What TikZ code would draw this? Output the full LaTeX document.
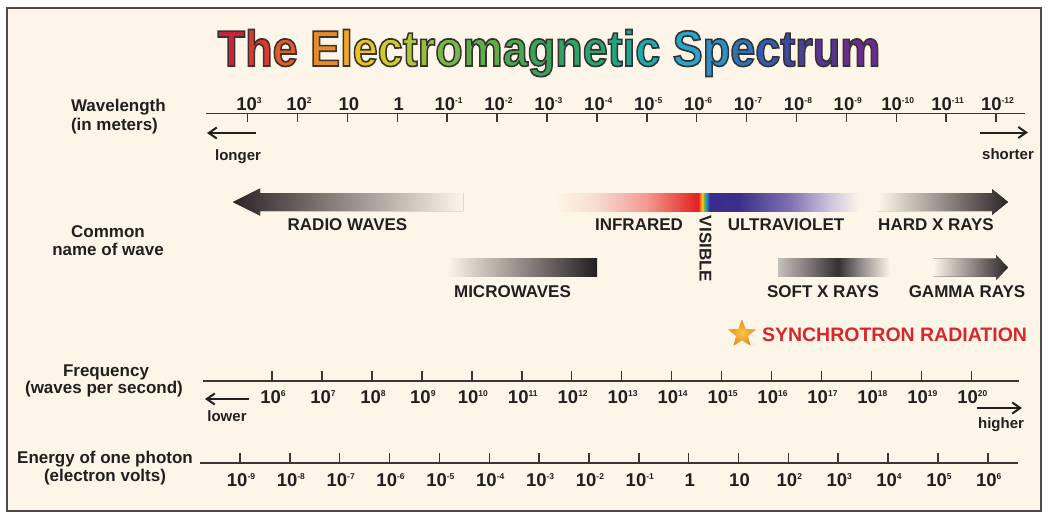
\documentclass[tikz,border=0pt]{standalone}
\usepackage{fontspec}
\setmainfont{Liberation Sans}
\usetikzlibrary{arrows.meta,shapes.geometric}
\definecolor{cream}{HTML}{FDF6E8}
\definecolor{ink}{HTML}{231F20}
\definecolor{axisc}{HTML}{3A3636}
\definecolor{framec}{HTML}{4D4A47}
\definecolor{darkband}{HTML}{2B2526}
\definecolor{synred}{HTML}{D8262E}
% spectrum colours
\definecolor{sp1}{HTML}{F7DCD3}
\definecolor{sp2}{HTML}{F19A91}
\definecolor{sp3}{HTML}{E63A36}
\definecolor{sp4}{HTML}{E31E24}
\definecolor{sp5}{HTML}{F47B20}
\definecolor{sp6}{HTML}{F4D31F}
\definecolor{sp7}{HTML}{4DB748}
\definecolor{sp8}{HTML}{2A8FD0}
\definecolor{sp9}{HTML}{3A2C8E}
\definecolor{sp10}{HTML}{3B2F8A}
\definecolor{sp11}{HTML}{7D6FB0}
\definecolor{sp12}{HTML}{CBC4DD}
\definecolor{sx1}{HTML}{C4BFB8}
\definecolor{sx2}{HTML}{7A7573}
\definecolor{sx3}{HTML}{343031}
\definecolor{sx4}{HTML}{8F8A87}
\definecolor{starin}{HTML}{F9C846}
\definecolor{starout}{HTML}{E98A1D}
\pgfdeclarehorizontalshading{emspec}{100bp}{color(0bp)=(cream); color(25bp)=(cream);
  color(31.67bp)=(sp1); color(40bp)=(sp2); color(46.67bp)=(sp3); color(48.5bp)=(sp4);
  color(48.83bp)=(sp5); color(49.17bp)=(sp6); color(49.5bp)=(sp7); color(49.83bp)=(sp8);
  color(50.33bp)=(sp9); color(55bp)=(sp10); color(63.33bp)=(sp11); color(70bp)=(sp12);
  color(75bp)=(cream); color(100bp)=(cream)}
\pgfdeclarehorizontalshading{softx}{100bp}{color(0bp)=(sx1); color(25bp)=(sx1);
  color(39.3bp)=(sx2); color(51.8bp)=(sx3); color(61.6bp)=(sx4); color(75bp)=(cream); color(100bp)=(cream)}
\newcommand\tl[2]{{\color[HTML]{#1}\special{pdf:literal direct 0.22 0.2 0.2 RG}#2}}
\newcommand\tenp[1]{10\raisebox{7pt}{\fontsize{8.5}{9}\selectfont#1}}
\begin{document}
\begin{tikzpicture}[x=1pt,y=-1pt,
  every node/.style={inner sep=0pt, outer sep=0pt, text=ink, font=\bfseries\fontsize{17}{20}\selectfont},
  lab/.style={anchor=base},
  numlab/.style={anchor=base, font=\bfseries\fontsize{18.5}{20}\selectfont},
  smalllab/.style={anchor=base, font=\bfseries\fontsize{15}{18}\selectfont},
  axisline/.style={line width=1.6pt, draw=axisc},
  ticksty/.style={line width=1.5pt, draw=axisc},
  dirarrow/.style={-{Straight Barb[length=8pt,width=11pt,line width=2pt]}, line width=2pt, draw=ink}]
\useasboundingbox (0,0) rectangle (1051,517);
\fill[white] (0,0) rectangle (1051,517);
\draw[framec, line width=2pt, fill=cream] (7,8) rectangle (1041,511);

% title
\node[anchor=base, font=\bfseries\fontsize{45}{50}\selectfont] (title) at (549,66)
  {\scalebox{1}[1.12]{\special{pdf:literal direct 2 Tr 1.5 w}%
  \tl{D0203A}{T}\tl{DA3A2C}{h}\tl{E35A28}{e} %
  \tl{E88B27}{E}\tl{EEA723}{l}\tl{EBC423}{e}\tl{CFCB2C}{c}\tl{B2C63A}{t}\tl{96BF3F}{r}\tl{79B744}{o}\tl{5CAF48}{m}\tl{46A94F}{a}\tl{37A557}{g}\tl{2EA362}{n}\tl{27A46F}{e}\tl{22A57F}{t}\tl{20A793}{i}\tl{22A9AD}{c} %
  \tl{29A4CB}{S}\tl{2B8FC8}{p}\tl{2E74B9}{e}\tl{345BAA}{c}\tl{3C4B9F}{t}\tl{4A3E98}{r}\tl{5A3492}{u}\tl{6B2D8D}{m}%
  \special{pdf:literal direct 0 Tr}}};

% ---------- wavelength axis
\node[lab, anchor=base west] (wl1) at (71,111) {Wavelength};
\node[lab, anchor=base west] (wl2) at (71,130) {(in meters)};
\coordinate (wa) at (206,113.5);
\coordinate (wb) at (1025,113.5);
\draw[axisline] (wa) -- (wb);
\foreach \i in {0,...,15} \draw[ticksty] (247.6+49.9*\i,113.5) -- ++(0,8);
\foreach \lab [count=\i from 0] in {\tenp{3},\tenp{2},10,1,\tenp{-1},\tenp{-2},\tenp{-3},\tenp{-4},\tenp{-5},\tenp{-6},\tenp{-7},\tenp{-8},\tenp{-9},\tenp{-10},\tenp{-11},\tenp{-12}}
  \node[numlab] (wlab\i) at (249+49.9*\i,110) {\lab};
\coordinate (lgA) at (256,133);
\coordinate (lgB) at (207,133);
\draw[dirarrow] (lgA) -- (lgB);
\node[smalllab] (longer) at (238,160) {longer};
\coordinate (shA) at (980,132.5);
\coordinate (shB) at (1028,132.5);
\draw[dirarrow] (shA) -- (shB);
\node[smalllab] (shorter) at (1008,159) {shorter};

% ---------- common names
\node[lab] (cn1) at (108,237) {Common};
\node[lab] (cn2) at (108,255) {name of wave};

% radio waves arrow
\fill[left color=darkband, right color=cream]
  (233,202) -- (260,188.5) -- (260,193) -- (463,193) -- (463,211) -- (260,211) -- (260,215.5) -- cycle;
\node[lab] (radio) at (347.5,230) {RADIO WAVES};
% IR - visible - UV bar
\fill[shading=emspec] (555,193) rectangle (860,211);
\node[lab] (ir) at (639,230) {INFRARED};
\node[rotate=-90] (vis) at (705.5,249) {VISIBLE};
\node[lab] (uv) at (786,230) {ULTRAVIOLET};
% hard x rays
\fill[left color=cream, right color=darkband]
  (878,193) -- (992,193) -- (992,189) -- (1008,202) -- (992,215) -- (992,211) -- (878,211) -- cycle;
\node[lab] (hardx) at (936,230) {HARD X RAYS};
% microwaves
\fill[left color=cream, right color=ink] (447,258.5) rectangle (597,276.5);
\node[lab] (micro) at (512.5,297) {MICROWAVES};
% soft x rays
\fill[shading=softx] (778,258.5) rectangle (890,276.5);
\node[lab] (softx) at (823,297) {SOFT X RAYS};
% gamma rays
\fill[left color=cream, right color=darkband]
  (933,258.5) -- (996,258.5) -- (996,255) -- (1008,267.5) -- (996,280) -- (996,276.5) -- (933,276.5) -- cycle;
\node[lab] (gamma) at (967,297) {GAMMA RAYS};

% synchrotron
\node[star, star points=5, star point ratio=2.3, minimum size=29pt, inner color=starin, outer color=starout] (synstar) at (742,334) {};
\node[anchor=base west, text=synred, font=\bfseries\fontsize{19.5}{22}\selectfont] (synchro) at (762,341) {SYNCHROTRON RADIATION};

% ---------- frequency axis
\node[lab] (fq1) at (106,376) {Frequency};
\node[lab] (fq2) at (104,393) {(waves per second)};
\coordinate (fa) at (203,381);
\coordinate (fb) at (1019,381);
\draw[axisline] (fa) -- (fb);
\foreach \i in {0,...,14} \draw[ticksty] (272+49.95*\i,381) -- ++(0,-10);
\foreach \e [count=\i from 0] in {6,...,20}
  \node[numlab] (flab\i) at (273+49.95*\i,403) {\tenp{\e}};
\coordinate (loA) at (249,399);
\coordinate (loB) at (205,399);
\draw[dirarrow] (loA) -- (loB);
\node[smalllab] (lower) at (227,421) {lower};
\coordinate (hiA) at (977,408);
\coordinate (hiB) at (1022,408);
\draw[dirarrow] (hiA) -- (hiB);
\node[smalllab] (higher) at (1001,428) {higher};

% ---------- energy axis
\node[lab] (en1) at (105,463) {Energy of one photon};
\node[lab] (en2) at (105,481) {(electron volts)};
\coordinate (ea) at (200,463);
\coordinate (eb) at (1018,463);
\draw[axisline] (ea) -- (eb);
\foreach \i in {0,...,15} \draw[ticksty] (240+49.85*\i,463) -- ++(0,-10);
\foreach \lab [count=\i from 0] in {\tenp{-9},\tenp{-8},\tenp{-7},\tenp{-6},\tenp{-5},\tenp{-4},\tenp{-3},\tenp{-2},\tenp{-1},1,10,\tenp{2},\tenp{3},\tenp{4},\tenp{5},\tenp{6}}
  \node[numlab] (elab\i) at (241+49.85*\i,486) {\lab};
\end{tikzpicture}
\end{document}
